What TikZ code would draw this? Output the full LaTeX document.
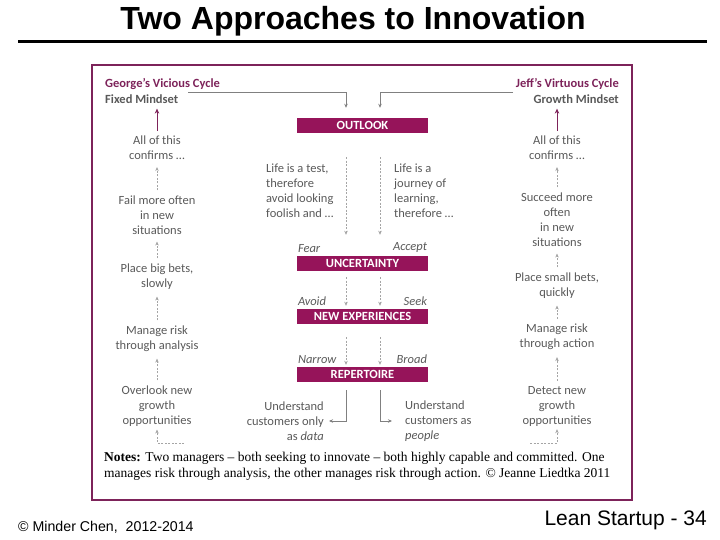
\documentclass[tikz,border=0pt]{standalone}
\usepackage{fontspec}
\setmainfont{Carlito}
\newfontfamily\arialfont{Liberation Sans}
\newfontfamily\notesfont{Liberation Serif}
\usetikzlibrary{arrows.meta,calc}
\definecolor{framec}{RGB}{125,35,90}
\definecolor{boxc}{RGB}{150,20,90}
\definecolor{txtc}{RGB}{89,89,89}
\definecolor{dashc}{RGB}{165,165,165}
\definecolor{connc}{RGB}{128,128,128}
\begin{document}
\begin{tikzpicture}[x=1pt,y=-1pt,
  lbl/.style={font=\fontsize{12.5}{15}\selectfont, text=txtc, align=center, inner sep=1pt},
  lbll/.style={lbl, align=left, anchor=west},
  lblr/.style={lbl, align=right, anchor=east},
  hdr/.style={font=\fontsize{12.5}{15}\selectfont\bfseries, inner sep=1pt},
  tag/.style={font=\fontsize{12.5}{15}\selectfont\itshape, text=txtc, inner sep=1pt},
  stagebox/.style={fill=boxc, text=white, font=\fontsize{12.5}{15}\selectfont\bfseries,
    minimum width=131pt, minimum height=15pt, inner sep=0pt},
  dasharrow/.style={draw=dashc, line width=0.6pt, dash pattern=on 2pt off 1.5pt,
    -{Stealth[length=4pt,width=3.5pt]}},
  connarrow/.style={draw=connc, line width=0.7pt, -{Stealth[length=4pt,width=3.5pt]}},
  purplearrow/.style={draw=framec, line width=0.9pt, -{Stealth[length=5pt,width=4.5pt]}}]
\useasboundingbox (0,0) rectangle (720,540);

% title and rule
\node[font=\arialfont\fontsize{32}{36}\selectfont\bfseries, inner sep=0pt] (title) at (353,21) {Two Approaches to Innovation};
\coordinate (ruleL) at (18,42);
\coordinate (ruleR) at (707,42);
\draw[line width=3pt] (ruleL) -- (ruleR);

% frame
\node[draw=framec, line width=2pt, minimum width=540pt, minimum height=435pt, inner sep=0pt] (frame) at (362,282.5) {};

% headers
\node[hdr, text=framec, anchor=west] (george) at (104,84) {George’s Vicious Cycle};
\node[hdr, text=txtc, anchor=west] (fixed) at (104,99) {Fixed Mindset};
\node[hdr, text=framec, anchor=east] (jeff) at (620,84) {Jeff’s Virtuous Cycle};
\node[hdr, text=txtc, anchor=east] (growth) at (620,99) {Growth Mindset};

% stage boxes
\node[stagebox] (outlook) at (362.5,125.5) {OUTLOOK};
\node[stagebox] (unc) at (362.5,263.5) {UNCERTAINTY};
\node[stagebox] (newexp) at (362.5,316.5) {NEW EXPERIENCES};
\node[stagebox] (rep) at (362.5,374.5) {REPERTOIRE};

% tags
\node[tag, anchor=south west] (fear) at ($(unc.north west)+(0,-2)$) {Fear};
\node[tag, anchor=south east] (accept) at ($(unc.north east)+(0,-2)$) {Accept};
\node[tag, anchor=south west] (avoid) at ($(newexp.north west)+(0,-2)$) {Avoid};
\node[tag, anchor=south east] (seek) at ($(newexp.north east)+(0,-2)$) {Seek};
\node[tag, anchor=south west] (narrow) at ($(rep.north west)+(0,-2)$) {Narrow};
\node[tag, anchor=south east] (broad) at ($(rep.north east)+(0,-2)$) {Broad};

% centre texts
\node[lbll] (test) at (265,190.5) {Life is a test,\\therefore\\avoid looking\\foolish and …};
\node[lbll] (journey) at (393,190.5) {Life is a\\journey of\\learning,\\therefore …};
\node[lblr] (und1) at (325,421) {Understand\\customers only\\as \textit{data}};
\node[lbll] (und2) at (404,421) {Understand\\customers as\\\textit{people}};

% left column
\node[lbl] (lconf) at (157,148) {All of this\\confirms …};
\node[lbl] (lfail) at (157,215) {Fail more often\\in new\\situations};
\node[lbl] (lbets) at (157,276.5) {Place big bets,\\slowly};
\node[lbl] (lrisk) at (157,338.5) {Manage risk\\through analysis};
\node[lbl] (lover) at (157,406) {Overlook new\\growth\\opportunities};

% right column
\node[lbl] (rconf) at (557,148) {All of this\\confirms …};
\node[lbl] (rsucc) at (557,219.5) {Succeed more\\often\\in new\\situations};
\node[lbl] (rbets) at (557,285.5) {Place small bets,\\quickly};
\node[lbl] (rrisk) at (557,337) {Manage risk\\through action};
\node[lbl] (rdet) at (557,406) {Detect new\\growth\\opportunities};

% notes
\node[font=\notesfont\fontsize{13.5}{16}\selectfont, align=left, anchor=north west, inner sep=0pt] (notes) at (104,452)
 {\textbf{Notes:} Two managers – both seeking to innovate – both highly capable and committed. One\\manages risk through analysis, the other manages risk through action. © Jeanne Liedtka 2011};

% footer
\node[font=\arialfont\fontsize{14.2}{16}\selectfont, anchor=west, inner sep=0pt] (copy) at (18,527) {© Minder Chen,\ \ 2012-2014};
\node[font=\arialfont\fontsize{21}{24}\selectfont, anchor=east, inner sep=0pt] (page) at (707,520) {Lean Startup - 34};

% connectors from mindsets to outlook
\coordinate (gstart) at (188,92);
\coordinate (jstart) at (513,92);
\draw[connarrow, shorten >=10pt] (gstart) -| ($(outlook.north)+(-16.5,0)$);
\draw[connarrow, shorten >=10pt] (jstart) -| ($(outlook.north)+(17.5,0)$);

% centre dashed flows
\draw[dasharrow, shorten <=24pt, shorten >=21pt] ($(outlook.south)+(-16.5,0)$) -- ($(unc.north)+(-16.5,0)$);
\draw[dasharrow, shorten <=24pt, shorten >=21pt] ($(outlook.south)+(17.5,0)$) -- ($(unc.north)+(17.5,0)$);
\draw[dasharrow, shorten <=6pt, shorten >=3pt] ($(unc.south)+(-16.5,0)$) -- ($(newexp.north)+(-16.5,0)$);
\draw[dasharrow, shorten <=6pt, shorten >=3pt] ($(unc.south)+(17.5,0)$) -- ($(newexp.north)+(17.5,0)$);
\draw[dasharrow, shorten <=13pt, shorten >=2pt] ($(newexp.south)+(-16.5,0)$) -- ($(rep.north)+(-16.5,0)$);
\draw[dasharrow, shorten <=13pt, shorten >=2pt] ($(newexp.south)+(17.5,0)$) -- ($(rep.north)+(17.5,0)$);

% repertoire outcomes
\draw[connarrow, shorten <=8pt, shorten >=4pt] ($(rep.south)+(-16.5,0)$) |- (und1.east);
\draw[connarrow, shorten <=8pt, shorten >=12pt] ($(rep.south)+(17.5,0)$) |- (und2.west);

% mindset confirmations
\draw[purplearrow, shorten <=4pt, shorten >=4pt] (lconf.north) -- (lconf.north |- fixed.south);
\draw[purplearrow, shorten <=4pt, shorten >=4pt] (rconf.north) -- (rconf.north |- growth.south);

% side cycles
\draw[dasharrow, shorten <=4pt, shorten >=6pt] (lfail) -- (lconf);
\draw[dasharrow, shorten <=4pt, shorten >=6pt] (lbets) -- (lfail);
\draw[dasharrow, shorten <=4pt, shorten >=6pt] (lrisk) -- (lbets);
\draw[dasharrow, shorten <=4pt, shorten >=6pt] (lover) -- (lrisk);
\draw[dasharrow, shorten <=4pt, shorten >=6pt] (rsucc) -- (rconf);
\draw[dasharrow, shorten <=4pt, shorten >=6pt] (rbets) -- (rsucc);
\draw[dasharrow, shorten <=4pt, shorten >=6pt] (rrisk) -- (rbets);
\draw[dasharrow, shorten <=4pt, shorten >=6pt] (rdet) -- (rrisk);
\coordinate (lend) at (184,443);
\coordinate (rend) at (530,443);
\draw[dasharrow, shorten >=2pt] (lend) -| (lover.south);
\draw[dasharrow, shorten >=2pt] (rend) -| (rdet.south);
\end{tikzpicture}
\end{document}
